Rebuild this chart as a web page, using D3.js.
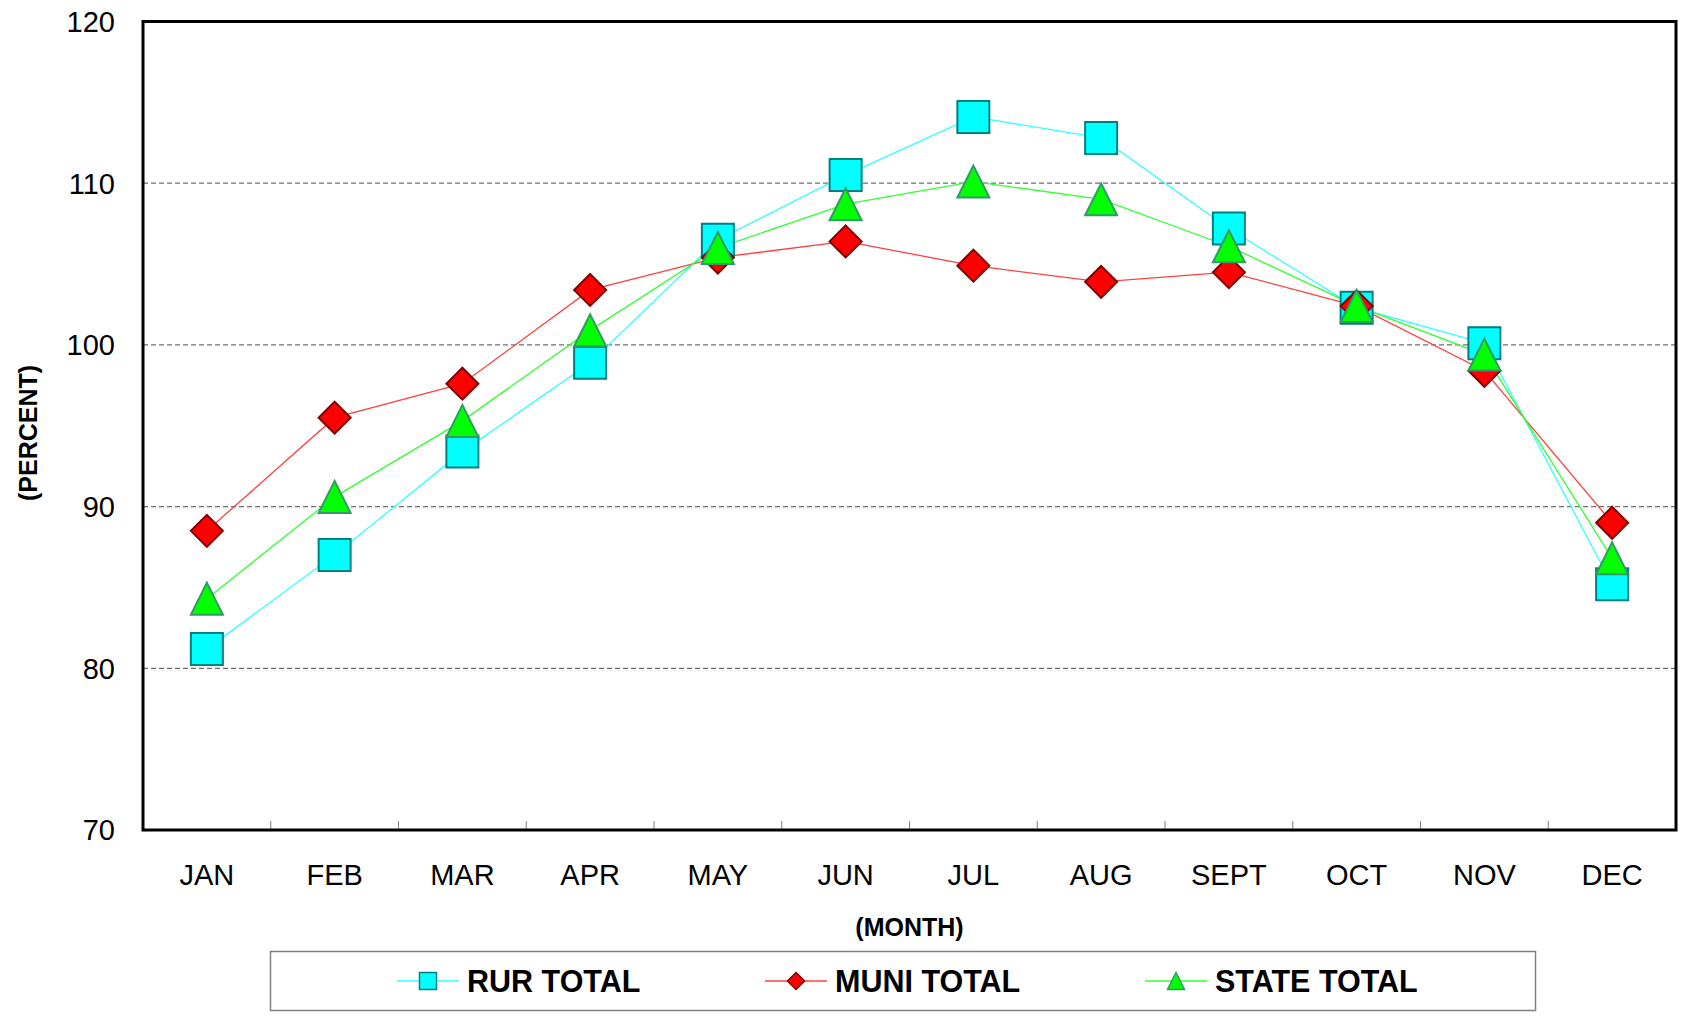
<!DOCTYPE html>
<html>
<head>
<meta charset="utf-8">
<script src="https://cdn.jsdelivr.net/npm/d3@7"></script>
<style>
  body { margin: 0; background: #fff; }
  svg { display: block; font-family: "Liberation Sans", Arial, sans-serif; }
</style>
</head>
<body>
<svg id="chart" width="1684" height="1018"></svg>
<script>
// Data
const months = ["JAN", "FEB", "MAR", "APR", "MAY", "JUN", "JUL", "AUG", "SEPT", "OCT", "NOV", "DEC"];
const rurTotal = [81.2, 87.0, 93.4, 98.9, 106.5, 110.5, 114.1, 112.8, 107.2, 102.3, 100.1, 85.2];
const muniTotal = [88.5, 95.5, 97.6, 103.4, 105.4, 106.4, 104.9, 103.9, 104.5, 102.4, 98.4, 89.0];
const stateTotal = [84.3, 90.6, 95.3, 100.9, 106.0, 108.7, 110.1, 109.0, 106.1, 102.4, 99.4, 86.8];
const yTicks = [70, 80, 90, 100, 110, 120];
const gridValues = [80, 90, 100, 110];
const seriesNames = ["RUR TOTAL", "MUNI TOTAL", "STATE TOTAL"];

const width = 1684;
const height = 1018;
const plot = { left: 143, right: 1676, top: 21.5, bottom: 830 };

const svg = d3.select("#chart");

// Series table (styles kept apart from values)
const series = [
  { name: seriesNames[0], values: rurTotal, shape: "square", fill: "#00ffff", stroke: "#008080", line: "#33ffff" },
  { name: seriesNames[1], values: muniTotal, shape: "diamond", fill: "#ff0000", stroke: "#800000", line: "#ff4040" },
  { name: seriesNames[2], values: stateTotal, shape: "triangle", fill: "#00ff00", stroke: "#339966", line: "#33ff33" }
];

// Scales
const x = d3.scaleBand()
  .domain(months)
  .range([plot.left, plot.right])
  .padding(0);
const xc = d => x(d) + x.bandwidth() / 2;

const y = d3.scaleLinear()
  .domain([70, 120])
  .range([plot.bottom, plot.top]);

// Marker path centred at 0,0
function marker(shape, h) {
  if (shape === "square") return `M${-h},${-h}H${h}V${h}H${-h}Z`;
  if (shape === "diamond") return `M0,${-h}L${h},0L0,${h}L${-h},0Z`;
  return `M0,${-h}L${h},${h}L${-h},${h}Z`;
}

// Gridlines
svg.append("g")
  .selectAll("line")
  .data(gridValues)
  .join("line")
  .attr("x1", plot.left)
  .attr("x2", plot.right)
  .attr("y1", d => y(d))
  .attr("y2", d => y(d))
  .attr("stroke", "#6e6e6e")
  .attr("stroke-width", 1.2)
  .attr("stroke-dasharray", "5,3");

// Category ticks between months
svg.append("g")
  .selectAll("line")
  .data(months.slice(1))
  .join("line")
  .attr("x1", d => x(d))
  .attr("x2", d => x(d))
  .attr("y1", plot.bottom)
  .attr("y2", plot.bottom - 9)
  .attr("stroke", "#808080")
  .attr("stroke-width", 1);

// Plot frame
svg.append("rect")
  .attr("x", plot.left)
  .attr("y", plot.top)
  .attr("width", plot.right - plot.left)
  .attr("height", plot.bottom - plot.top)
  .attr("fill", "none")
  .attr("stroke", "#000")
  .attr("stroke-width", 3);

// Y labels
svg.append("g")
  .selectAll("text")
  .data(yTicks)
  .join("text")
  .attr("x", 115)
  .attr("y", d => y(d))
  .attr("dy", "0.36em")
  .attr("text-anchor", "end")
  .attr("font-size", 29)
  .text(d => d);

// X labels
svg.append("g")
  .selectAll("text")
  .data(months)
  .join("text")
  .attr("x", d => xc(d))
  .attr("y", 875)
  .attr("dy", "0.36em")
  .attr("text-anchor", "middle")
  .attr("font-size", 29)
  .text(d => d);

// Axis titles
svg.append("text")
  .attr("x", (plot.left + plot.right) / 2)
  .attr("y", 927)
  .attr("dy", "0.36em")
  .attr("text-anchor", "middle")
  .attr("font-size", 25)
  .attr("font-weight", "bold")
  .text("(MONTH)");

svg.append("text")
  .attr("transform", "translate(28,433) rotate(-90)")
  .attr("dy", "0.36em")
  .attr("text-anchor", "middle")
  .attr("font-size", 25)
  .attr("font-weight", "bold")
  .text("(PERCENT)");

// Lines
const line = d3.line()
  .x((d, i) => xc(months[i]))
  .y(d => y(d));

svg.append("g")
  .selectAll("path")
  .data(series)
  .join("path")
  .attr("d", d => line(d.values))
  .attr("fill", "none")
  .attr("stroke", d => d.line)
  .attr("stroke-width", 1.3);

// Markers, drawn per series in order
series.forEach(s => {
  svg.append("g")
    .selectAll("path")
    .data(s.values)
    .join("path")
    .attr("transform", (d, i) => `translate(${xc(months[i])},${y(d)})`)
    .attr("d", marker(s.shape, 16))
    .attr("fill", s.fill)
    .attr("stroke", s.stroke)
    .attr("stroke-width", 2);
});

// Legend
const legend = svg.append("g");
legend.append("rect")
  .attr("x", 270.5)
  .attr("y", 951.5)
  .attr("width", 1265)
  .attr("height", 59)
  .attr("fill", "#fff")
  .attr("stroke", "#808080")
  .attr("stroke-width", 1.5);

const legendX = [428, 796, 1176];
const legendY = 981;

const item = legend.selectAll("g.item")
  .data(series)
  .join("g")
  .attr("class", "item")
  .attr("transform", (d, i) => `translate(${legendX[i]},${legendY})`);

item.append("line")
  .attr("x1", -31)
  .attr("x2", 31)
  .attr("stroke", d => d.line)
  .attr("stroke-width", 1.5);

item.append("path")
  .attr("d", d => marker(d.shape, 8.5))
  .attr("fill", d => d.fill)
  .attr("stroke", d => d.stroke)
  .attr("stroke-width", 1.5);

item.append("text")
  .attr("x", 39)
  .attr("dy", "0.36em")
  .attr("font-size", 30.5)
  .attr("font-weight", "bold")
  .text(d => d.name);
</script>
</body>
</html>
